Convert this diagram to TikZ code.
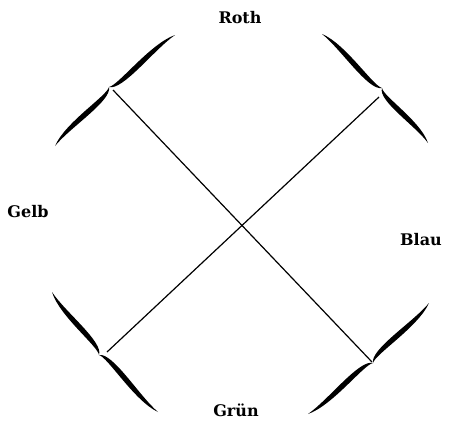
\documentclass[tikz,border=0pt]{standalone}
\usepackage{fontspec}
\setmainfont{DejaVu Serif}
\usetikzlibrary{calc}

% one tapered arm of a brace, from the cusp #1 to the end #2, #3 = angle towards the centre
\newcommand\halfbrace[3]{%
  \fill (#1) .. controls ($(#1)!0.1!(#2)!11.5pt!#3:(#2)$) and ($(#1)!0.7!(#2)!-1.5pt!#3:(#2)$) .. (#2)
     .. controls ($(#1)!0.7!(#2)!-8.5pt!#3:(#2)$) and ($(#1)!0.1!(#2)!4.5pt!#3:(#2)$) .. (#1) -- cycle;}
\newcommand\colbrace[3]{\halfbrace{#1}{#2}{-90}\halfbrace{#1}{#3}{90}}

\begin{document}
\begin{tikzpicture}[
            x=1pt, y=-1pt,
            lbl/.style={font=\fontsize{16}{19}\selectfont\bfseries, inner sep=0pt},
            diag/.style={line width=1.2pt},
        ]

        \useasboundingbox (0,0) rectangle (457,426);

        % colour names
        \node[lbl] (roth) at (240,18) {Roth};
        \node[lbl] (gelb) at (28,212) {Gelb};
        \node[lbl] (blau) at (421,240) {Blau};
        \node[lbl] (gruen) at (236,410) {Grün};

        % cusps of the braces
        \coordinate (tl) at (109,87);
        \coordinate (tr) at (382,88);
        \coordinate (bl) at (99,355);
        \coordinate (br) at (373,363);

        % ends of the arms
        \coordinate (tl1) at (175,35);  \coordinate (tl2) at (55,146);
        \coordinate (tr1) at (428,143); \coordinate (tr2) at (322,34);
        \coordinate (bl1) at (52,292);  \coordinate (bl2) at (158,412);
        \coordinate (br1) at (308,414); \coordinate (br2) at (429,303);

        \colbrace{tl}{tl1}{tl2}
        \colbrace{tr}{tr1}{tr2}
        \colbrace{bl}{bl1}{bl2}
        \colbrace{br}{br1}{br2}

        % where the diagonals start
        \coordinate (d1) at (113,90);
        \coordinate (d2) at (372,362);
        \coordinate (d3) at (379,97);
        \coordinate (d4) at (107,352);

        \draw[diag]
            (d1) edge (d2)
            (d3) edge (d4)
        ;

\end{tikzpicture}
\end{document}
